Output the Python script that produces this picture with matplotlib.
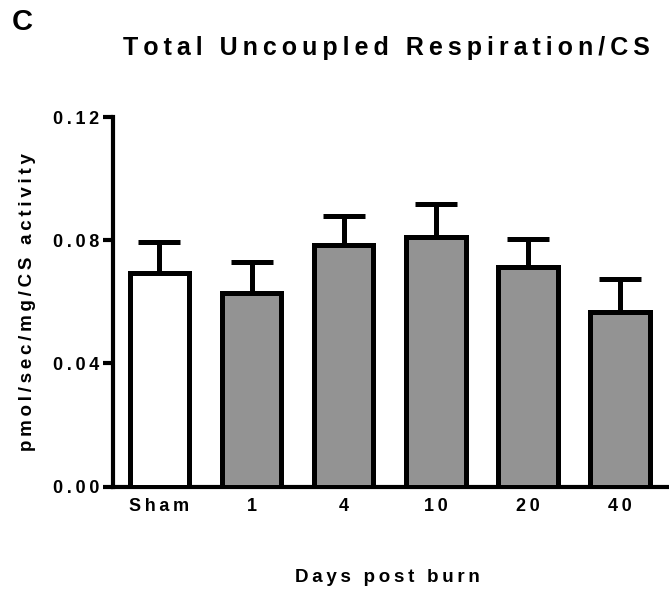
import matplotlib
matplotlib.use('Agg')
import matplotlib.pyplot as plt
import numpy as np

groups = ['Sham', '1', '4', '10', '20', '40']       # Дні після опіку
means = [0.0693, 0.0628, 0.0784, 0.0811, 0.0712, 0.0567]
upper = [0.0795, 0.0728, 0.0879, 0.0918, 0.0803, 0.0673]   # верх планки похибки
fills = ['white', '#939393', '#939393', '#939393', '#939393', '#939393']
yticks = [0.00, 0.04, 0.08, 0.12]

plt.rcParams['font.family'] = ['Liberation Sans', 'DejaVu Sans']
plt.rcParams['font.weight'] = 'bold'


def spaced(s, gap='\u2009'):
    # розрідження літер, як у GraphPad
    return gap.join(s)


fig = plt.figure(figsize=(6.69, 5.95), dpi=100)
ax = fig.add_axes([113 / 669, 1 - 486.5 / 595, (667 - 113) / 669, (486.5 - 117) / 595])

x = np.arange(len(groups))
err = np.array(upper) - np.array(means)
ax.bar(x, means, width=0.65, color=fills, edgecolor='black', linewidth=3.6, zorder=3)
ax.errorbar(x, means, yerr=[np.zeros_like(err), err], fmt='none', ecolor='black',
            elinewidth=3.6, capsize=15, capthick=3.6, zorder=2)

ax.set_xlim(-0.505, 5.514)
ax.set_ylim(0, 0.12)
ax.set_yticks(yticks)
ax.set_yticklabels([spaced('%.2f' % v) for v in yticks], fontsize=13, fontweight='bold')
ax.set_xticks(x)
ax.set_xticklabels([spaced(g) for g in groups], fontsize=13, fontweight='bold')
ax.tick_params(axis='x', length=0, pad=8)
ax.tick_params(axis='y', length=7, width=3, pad=3)
for side in ['top', 'right']:
    ax.spines[side].set_visible(False)
for side in ['left', 'bottom']:
    ax.spines[side].set_linewidth(3)

ax.set_ylabel(spaced('pmol/sec/mg/CS activity'), fontsize=13.5, fontweight='bold', labelpad=12)
fig.text(387 / 669, 1 - 578 / 595, spaced('Days post burn'), ha='center', va='center',
         fontsize=13.5, fontweight='bold')
fig.text(386 / 669, 1 - 48 / 595, spaced('Total Uncoupled Respiration/CS'), ha='center',
         va='center', fontsize=18, fontweight='bold')
fig.text(12 / 669, 1 - 22 / 595, 'C', ha='left', va='center', fontsize=21, fontweight='bold')

fig.savefig('out.png', dpi=100)
